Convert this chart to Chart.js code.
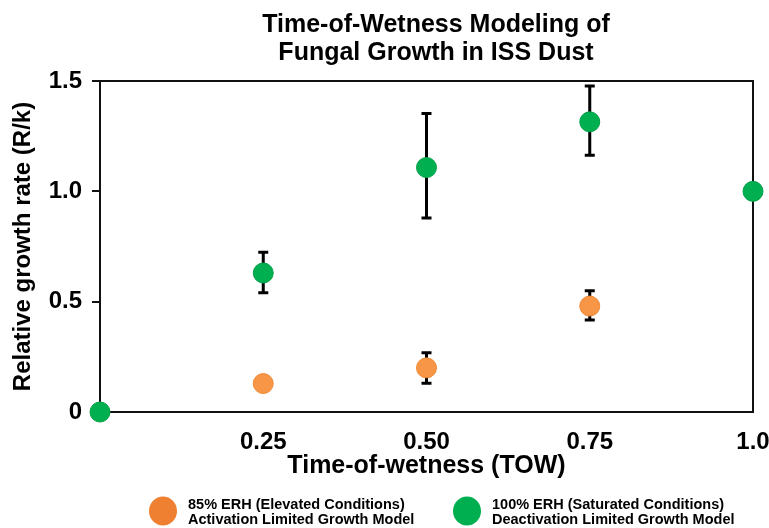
<!DOCTYPE html>
<html lang="en">
<head>
    <meta charset="UTF-8">
    <title>Time-of-Wetness Modeling</title>
    <style>
        html, body { margin: 0; padding: 0; background: #fff; }
        #wrap { width: 769px; height: 528px; }
    </style>
</head>
<body>
<div id="wrap">
    <canvas id="myChart" width="769" height="528"></canvas>
</div>

<script src="https://cdn.jsdelivr.net/npm/chart.js"></script>

<script>
    const titleLines = ['Time-of-Wetness Modeling of', 'Fungal Growth in ISS Dust'];

    const xTickValues = [0.25, 0.5, 0.75, 1.0];
    const xTickLabels = ['0.25', '0.50', '0.75', '1.0'];
    const yTickValues = [0, 0.5, 1.0, 1.5];
    const yTickLabels = ['0', '0.5', '1.0', '1.5'];

    // 85% ERH
    const orangeNames = ['85% ERH (Elevated Conditions)', 'Activation Limited Growth Model'];
    const orangeX = [0.25, 0.5, 0.75];
    const orangeY = [0.129, 0.20, 0.48];
    const orangeLow = [0.10, 0.13, 0.417];
    const orangeHigh = [0.16, 0.268, 0.55];

    // 100% ERH
    const greenNames = ['100% ERH (Saturated Conditions)', 'Deactivation Limited Growth Model'];
    const greenX = [0, 0.25, 0.5, 0.75, 1.0];
    const greenY = [0, 0.63, 1.108, 1.315, 1.0];
    const greenLow = [null, 0.54, 0.879, 1.164, null];
    const greenHigh = [null, 0.724, 1.353, 1.477, null];

    const FONT = "'Liberation Sans', Arial, sans-serif";

    function toPoints(xs, ys, lo, hi) {
        return xs.map((x, i) => ({x: x, y: ys[i], lo: lo[i], hi: hi[i]}));
    }

    // box round the plot + error bars, under the points
    const underPoints = {
        id: 'underPoints',
        beforeDatasetsDraw(chart) {
            const {ctx, chartArea, scales} = chart;
            ctx.save();
            ctx.strokeStyle = '#111';
            ctx.lineWidth = 2;
            ctx.strokeRect(chartArea.left, chartArea.top, chartArea.right - chartArea.left, chartArea.bottom - chartArea.top);

            ctx.lineWidth = 3;
            ctx.strokeStyle = '#000';
            chart.data.datasets.forEach(ds => {
                ds.data.forEach(p => {
                    if (p.lo == null || p.hi == null) return;
                    const x = scales.x.getPixelForValue(p.x);
                    const y1 = scales.y.getPixelForValue(p.lo);
                    const y2 = scales.y.getPixelForValue(p.hi);
                    ctx.beginPath();
                    ctx.moveTo(x, y1);
                    ctx.lineTo(x, y2);
                    ctx.moveTo(x - 5, y1);
                    ctx.lineTo(x + 5, y1);
                    ctx.moveTo(x - 5, y2);
                    ctx.lineTo(x + 5, y2);
                    ctx.stroke();
                });
            });
            ctx.restore();
        }
    };

    // title and legend
    const textBits = {
        id: 'textBits',
        afterDraw(chart) {
            const ctx = chart.ctx;
            ctx.save();
            ctx.fillStyle = '#000';
            ctx.textAlign = 'center';
            ctx.textBaseline = 'alphabetic';
            ctx.font = 'bold 25px ' + FONT;
            ctx.fillText(titleLines[0], 436, 32);
            ctx.fillText(titleLines[1], 436, 60);

            const items = [
                {names: orangeNames, color: '#EF8032', cx: 163},
                {names: greenNames, color: '#00B050', cx: 467}
            ];
            ctx.font = 'bold 14.5px ' + FONT;
            ctx.textAlign = 'left';
            items.forEach(it => {
                ctx.fillStyle = it.color;
                ctx.beginPath();
                ctx.ellipse(it.cx, 511, 14, 14.5, 0, 0, Math.PI * 2);
                ctx.fill();
                ctx.fillStyle = '#000';
                ctx.fillText(it.names[0], it.cx + 25, 509);
                ctx.fillText(it.names[1], it.cx + 25, 524);
            });
            ctx.restore();
        }
    };

    const ctx = document.getElementById('myChart');

    new Chart(ctx, {
        type: 'scatter',
        data: {
            datasets: [
                {
                    label: orangeNames.join(' '),
                    data: toPoints(orangeX, orangeY, orangeLow, orangeHigh),
                    backgroundColor: '#F79646',
                    borderColor: '#F08A36',
                    borderWidth: 1,
                    pointRadius: 10,
                    pointHoverRadius: 10,
                    clip: false
                },
                {
                    label: greenNames.join(' '),
                    data: toPoints(greenX, greenY, greenLow, greenHigh),
                    backgroundColor: '#00B050',
                    borderColor: '#00A048',
                    borderWidth: 1,
                    pointRadius: 10,
                    pointHoverRadius: 10,
                    clip: false
                }
            ]
        },
        options: {
            responsive: false,
            animation: false,
            layout: {
                padding: {top: 81, right: 16, bottom: 46, left: 0}
            },
            plugins: {
                legend: {display: false},
                title: {display: false},
                tooltip: {enabled: false}
            },
            scales: {
                x: {
                    type: 'linear',
                    min: 0,
                    max: 1.0,
                    afterBuildTicks: s => { s.ticks = xTickValues.map(v => ({value: v})); },
                    afterFit: s => { s.height = 70; s.paddingRight = 0; s.paddingLeft = 0; },
                    grid: {display: false, drawTicks: false},
                    border: {display: true, color: '#111', width: 2},
                    ticks: {
                        padding: 16,
                        color: '#000',
                        font: {family: FONT, size: 24, weight: 'bold'},
                        maxRotation: 0,
                        callback: (v) => xTickLabels[xTickValues.indexOf(v)]
                    },
                    title: {
                        display: true,
                        text: 'Time-of-wetness (TOW)',
                        color: '#000',
                        font: {family: FONT, size: 25, weight: 'bold'},
                        padding: {top: 0, bottom: 1}
                    }
                },
                y: {
                    min: 0,
                    max: 1.5,
                    afterBuildTicks: s => { s.ticks = yTickValues.map(v => ({value: v})); },
                    afterFit: s => { s.width = 100; },
                    grid: {drawOnChartArea: false, drawTicks: true, tickLength: 8, color: '#111', lineWidth: 2},
                    border: {display: true, color: '#111', width: 2},
                    ticks: {
                        padding: 10,
                        color: '#000',
                        font: {family: FONT, size: 24, weight: 'bold'},
                        callback: (v) => yTickLabels[yTickValues.indexOf(v)]
                    },
                    title: {
                        display: true,
                        text: 'Relative growth rate (R/k)',
                        color: '#000',
                        font: {family: FONT, size: 24, weight: 'bold'},
                        padding: {top: 9, bottom: 0}
                    }
                }
            }
        },
        plugins: [underPoints, textBits]
    });
</script>

</body>
</html>
